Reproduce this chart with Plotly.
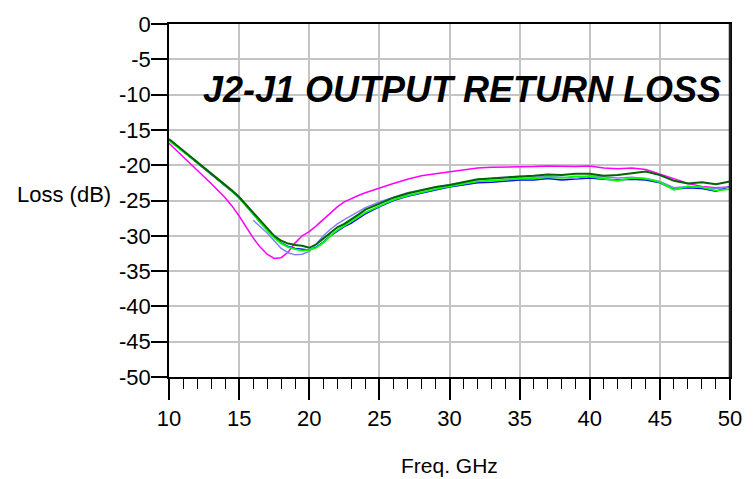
import plotly.graph_objects as go

freq = [10, 11, 12, 13, 14, 14.5, 15, 15.5, 16, 16.5, 17, 17.5, 18, 18.5, 19, 19.5, 20,
        20.5, 21, 21.5, 22, 22.5, 23, 23.5, 24, 25, 26, 27, 28, 29,
        30, 31, 32, 33, 34, 35, 36, 37, 38, 39, 40, 41, 42, 43, 44, 45, 46, 47, 48, 49, 50]

magenta = [-16.9, -18.8, -20.6, -22.6, -24.6, -25.8, -27.2, -28.8, -30.3, -31.6, -32.6,
           -33.2, -33.1, -32.3, -31.0, -30.0, -29.4, -28.6, -27.7, -26.8, -25.9, -25.2,
           -24.7, -24.3, -23.9, -23.2, -22.6, -22.0, -21.5, -21.2,
           -20.9, -20.7, -20.4, -20.3, -20.3, -20.2, -20.2, -20.1, -20.2, -20.2, -20.1,
           -20.4, -20.5, -20.4, -20.6, -21.2, -21.9, -22.6, -23.0, -23.2, -23.1]

light_blue = [None, None, None, None, None, None, None, None, -27.8, -28.7, -29.6,
              -30.7, -31.8, -32.4, -32.7, -32.6, -32.2, -31.2, -30.0, -29.1, -28.3, -27.7,
              -27.1, -26.6, -26.0, -25.2, -24.5, -23.9, -23.5, -23.1,
              -22.8, -22.4, -22.1, -21.8, -21.7, -21.6, -21.7, -21.6, -21.7, -21.9, -21.5,
              -21.7, -21.8, -21.7, -21.9, -22.3, -23.2, -23.0, -23.1, -23.3, -23.1]

blue = [-16.4, -18.0, -19.6, -21.2, -22.9, -23.7, -24.6, -25.7, -26.9, -28.1, -29.2,
        -30.2, -31.0, -31.5, -31.8, -31.9, -32.0, -31.6, -30.9, -30.0, -29.3, -28.7,
        -28.2, -27.5, -26.9, -25.9, -25.0, -24.4, -23.9, -23.5,
        -23.1, -22.8, -22.5, -22.4, -22.2, -22.1, -22.1, -21.9, -22.1, -21.9, -21.8,
        -22.0, -22.1, -22.0, -22.1, -22.5, -23.4, -23.2, -23.3, -23.7, -23.0]

green = [-16.5, -18.0, -19.6, -21.2, -22.8, -23.7, -24.6, -25.7, -26.9, -28.1, -29.2,
         -30.3, -31.1, -31.6, -31.9, -32.1, -32.0, -31.7, -31.0, -30.0, -29.2, -28.6,
         -28.0, -27.3, -26.7, -25.8, -24.9, -24.3, -23.8, -23.4,
         -23.0, -22.6, -22.3, -22.2, -22.0, -21.9, -21.9, -21.7, -21.8, -21.6, -21.6,
         -21.9, -22.2, -21.8, -21.9, -22.4, -23.5, -23.0, -23.1, -23.6, -23.4]

dark_green = [-16.3, -17.9, -19.5, -21.1, -22.8, -23.6, -24.5, -25.6, -26.8, -27.9, -29.0,
              -30.0, -30.7, -31.1, -31.3, -31.4, -31.7, -31.2, -30.4, -29.6, -28.8, -28.3,
              -27.7, -27.0, -26.3, -25.4, -24.6, -24.0, -23.5, -23.1,
              -22.8, -22.4, -22.0, -21.9, -21.7, -21.6, -21.5, -21.3, -21.4, -21.2, -21.2,
              -21.5, -21.4, -21.1, -20.9, -21.4, -22.2, -22.6, -22.4, -22.7, -22.3]

x_tick_vals = [10, 15, 20, 25, 30, 35, 40, 45, 50]
x_tick_text = ["10", "15", "20", "25", "30", "35", "40", "45", "50"]
y_tick_vals = [0, -5, -10, -15, -20, -25, -30, -35, -40, -45, -50]
y_tick_text = ["0", "-5", "-10", "-15", "-20", "-25", "-30", "-35", "-40", "-45", "-50"]

title_text = "J2-J1 OUTPUT RETURN LOSS"
x_title = "Freq. GHz"
y_title = "Loss (dB)"

FONT = "Liberation Sans, Arial, sans-serif"

series = [
    ("magenta", magenta, "#ff00ff", 1.5),
    ("blue", blue, "#0000ff", 1.5),
    ("light blue", light_blue, "#8080ff", 1.5),
    ("green", green, "#00ff00", 1.8),
    ("dark green", dark_green, "#006400", 2.0),
]

fig = go.Figure()
for name, vals, color, w in series:
    fig.add_trace(go.Scatter(x=freq, y=vals, mode="lines", name=name,
                             line=dict(color=color, width=w), connectgaps=False,
                             showlegend=False))

fig.update_layout(
    width=754, height=479,
    margin=dict(l=169, r=17, t=19, b=102),
    plot_bgcolor="white", paper_bgcolor="white",
    font=dict(family=FONT, size=22, color="black"),
    showlegend=False,
)

fig.update_xaxes(
    range=[10, 50], tickvals=x_tick_vals, ticktext=x_tick_text,
    ticks="outside", ticklen=21, tickwidth=1.5, tickcolor="black",
    showline=True, linecolor="black", linewidth=1.5, mirror=True,
    showgrid=True, gridcolor="#c4c4c4", gridwidth=1.5,
    zeroline=False,
    tickfont=dict(family=FONT, size=22, color="black"),
    minor=dict(dtick=1, ticks="outside", ticklen=10, tickwidth=1.2,
               tickcolor="black", showgrid=False),
)
fig.update_yaxes(
    range=[-50, 0], tickvals=y_tick_vals, ticktext=y_tick_text,
    ticks="outside", ticklen=16, tickwidth=1.5, tickcolor="black",
    ticklabelstandoff=-4,
    showline=True, linecolor="black", linewidth=1.5, mirror=True,
    showgrid=True, gridcolor="#c4c4c4", gridwidth=1.5,
    zeroline=False,
    tickfont=dict(family=FONT, size=22, color="black"),
)

# thicker right frame edge as in the reference
fig.add_shape(type="line", xref="paper", yref="paper", x0=1, x1=1, y0=0, y1=1,
              line=dict(color="#202020", width=2.5))

fig.add_annotation(text=title_text, xref="paper", yref="paper",
                   x=0.523, y=0.8156, xanchor="center", yanchor="middle",
                   showarrow=False,
                   font=dict(family=FONT, size=36, color="black", weight="bold", style="italic"))
fig.add_annotation(text=y_title, xref="paper", yref="paper",
                   x=-0.1004, y=0.5176, xanchor="right", yanchor="middle",
                   showarrow=False, font=dict(family=FONT, size=22, color="black"))
fig.add_annotation(text=x_title, xref="paper", yref="paper",
                   x=0.5, y=-0.2514, xanchor="center", yanchor="middle",
                   showarrow=False, font=dict(family=FONT, size=21, color="black"))

fig.write_html("out.html", config={"displayModeBar": False},
               post_script="document.body.style.margin='0px';")
